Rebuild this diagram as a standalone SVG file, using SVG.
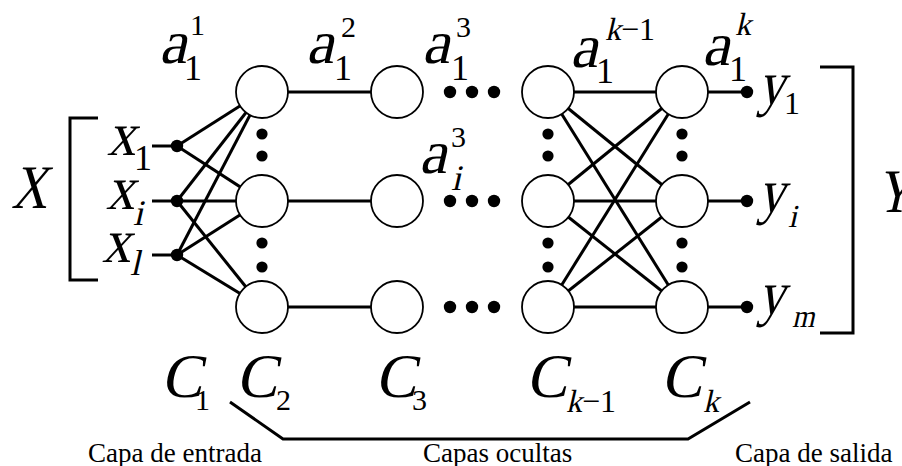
<svg xmlns="http://www.w3.org/2000/svg" width="902" height="466" viewBox="0 0 902 466">
<style>
.ln{stroke:#000;stroke-width:3;fill:none;stroke-linecap:butt}
.nd{fill:#fff;stroke:#000;stroke-width:1.8}
.dt{fill:#000}
text{font-family:"Liberation Serif","Times New Roman",serif;font-style:normal;fill:#000}
.mi{font-size:62px}
.sb{font-size:36px}
.ss{font-size:32px}
.sp{font-size:30px}
.cap{font-size:27px}
</style>
<rect width="902" height="466" fill="#fff"/>
<g id="connectors" class="ln">
  <line x1="152" y1="146" x2="177" y2="146"/>
  <line x1="152" y1="201" x2="177" y2="201"/>
  <line x1="152" y1="255" x2="177" y2="255"/>
  <line x1="177" y1="146" x2="262" y2="92"/>
  <line x1="177" y1="146" x2="262" y2="201"/>
  <line x1="177" y1="201" x2="262" y2="92"/>
  <line x1="177" y1="201" x2="262" y2="201"/>
  <line x1="177" y1="201" x2="262" y2="307"/>
  <line x1="177" y1="255" x2="262" y2="92"/>
  <line x1="177" y1="255" x2="262" y2="201"/>
  <line x1="177" y1="255" x2="262" y2="307"/>
  <line x1="262" y1="92" x2="397" y2="92"/>
  <line x1="262" y1="201" x2="397" y2="201"/>
  <line x1="262" y1="307" x2="397" y2="307"/>
  <line x1="548" y1="92" x2="682" y2="92"/>
  <line x1="548" y1="92" x2="682" y2="201"/>
  <line x1="548" y1="92" x2="682" y2="307"/>
  <line x1="548" y1="201" x2="682" y2="92"/>
  <line x1="548" y1="201" x2="682" y2="201"/>
  <line x1="548" y1="201" x2="682" y2="307"/>
  <line x1="548" y1="307" x2="682" y2="92"/>
  <line x1="548" y1="307" x2="682" y2="201"/>
  <line x1="548" y1="307" x2="682" y2="307"/>
  <line x1="682" y1="92" x2="747" y2="92"/>
  <line x1="682" y1="201" x2="747" y2="201"/>
  <line x1="682" y1="307" x2="747" y2="307"/>
</g>
<g id="brackets" class="ln">
  <polyline points="98,118 70,118 70,280 98,280"/>
  <polyline points="820,67 853,67 853,333 820,333"/>
  <polyline points="230,402 283,439 688,439 750,402"/>
</g>
<g id="inputs" class="dt">
  <circle id="in1" cx="177" cy="146" r="6.2"/>
  <circle id="in2" cx="177" cy="201" r="6.2"/>
  <circle id="in3" cx="177" cy="255" r="6.2"/>
</g>
<g id="outputs" class="dt">
  <circle id="out1" cx="747" cy="92" r="6.2"/>
  <circle id="out2" cx="747" cy="201" r="6.2"/>
  <circle id="out3" cx="747" cy="307" r="6.2"/>
</g>
<g id="c2_1"><circle class="nd" cx="262" cy="92" r="26"/></g>
<g id="c2_2"><circle class="nd" cx="262" cy="201" r="26"/></g>
<g id="c2_3"><circle class="nd" cx="262" cy="307" r="26"/></g>
<g id="c3_1"><circle class="nd" cx="397" cy="92" r="26"/></g>
<g id="c3_2"><circle class="nd" cx="397" cy="201" r="26"/></g>
<g id="c3_3"><circle class="nd" cx="397" cy="307" r="26"/></g>
<g id="ck1_1"><circle class="nd" cx="548" cy="92" r="26"/></g>
<g id="ck1_2"><circle class="nd" cx="548" cy="201" r="26"/></g>
<g id="ck1_3"><circle class="nd" cx="548" cy="307" r="26"/></g>
<g id="ck_1"><circle class="nd" cx="682" cy="92" r="26"/></g>
<g id="ck_2"><circle class="nd" cx="682" cy="201" r="26"/></g>
<g id="ck_3"><circle class="nd" cx="682" cy="307" r="26"/></g>
<g id="ellipsis" class="dt">
  <circle cx="450" cy="92" r="6.2"/><circle cx="472" cy="92" r="6.2"/><circle cx="494" cy="92" r="6.2"/>
  <circle cx="450" cy="201" r="6.2"/><circle cx="472" cy="201" r="6.2"/><circle cx="494" cy="201" r="6.2"/>
  <circle cx="450" cy="307" r="6.2"/><circle cx="472" cy="307" r="6.2"/><circle cx="494" cy="307" r="6.2"/>
  <circle cx="262" cy="134" r="5.6"/><circle cx="262" cy="156" r="5.6"/><circle cx="262" cy="243" r="5.6"/><circle cx="262" cy="267" r="5.6"/>
  <circle cx="548" cy="134" r="5.6"/><circle cx="548" cy="156" r="5.6"/><circle cx="548" cy="243" r="5.6"/><circle cx="548" cy="267" r="5.6"/>
  <circle cx="682" cy="134" r="5.6"/><circle cx="682" cy="156" r="5.6"/><circle cx="682" cy="243" r="5.6"/><circle cx="682" cy="267" r="5.6"/>
</g>
<g id="labels">
  <g id="lbl-X"><text class="mi" transform="translate(11,208) skewX(-13) scale(0.8,1)">X</text></g>
  <g id="lbl-Y"><text class="mi" transform="translate(876,212) skewX(-13) scale(0.8,1)">Y</text></g>
  <g id="lbl-x1"><text class="mi" transform="translate(107,155) skewX(-13) scale(0.92,1)">x</text><text class="sb" x="134" y="170">1</text></g>
  <g id="lbl-xi"><text class="mi" transform="translate(106,209) skewX(-13) scale(0.92,1)">x</text><text class="sb" transform="translate(133,225) skewX(-13)">i</text></g>
  <g id="lbl-xl"><text class="mi" transform="translate(102,262) skewX(-13) scale(0.92,1)">x</text><text class="sb" transform="translate(130,275) skewX(-13)">l</text></g>
  <g id="lbl-a11"><text class="mi" transform="translate(159,63) skewX(-13)">a</text><text class="sb" x="184" y="80">1</text><text class="sp" x="190" y="35">1</text></g>
  <g id="lbl-a12"><text class="mi" transform="translate(306,63) skewX(-13)">a</text><text class="sb" x="334" y="80">1</text><text class="sp" x="341" y="37">2</text></g>
  <g id="lbl-a13"><text class="mi" transform="translate(422,63) skewX(-13)">a</text><text class="sb" x="451" y="80">1</text><text class="sp" x="456" y="37">3</text></g>
  <g id="lbl-ai3"><text class="mi" transform="translate(419,173) skewX(-13)">a</text><text class="sb" transform="translate(451,190) skewX(-13)">i</text><text class="sp" x="451" y="147">3</text></g>
  <g id="lbl-a1k1"><text class="mi" transform="translate(570,67) skewX(-13)">a</text><text class="sb" x="596" y="83">1</text><text class="ss" transform="translate(605,40) skewX(-13)">k</text><text class="ss" x="621" y="40">−1</text></g>
  <g id="lbl-a1k"><text class="mi" transform="translate(702,65) skewX(-13)">a</text><text class="sb" x="729" y="81">1</text><text class="ss" transform="translate(735,35) skewX(-13)">k</text></g>
  <g id="lbl-y1"><text class="mi" transform="translate(758,104) skewX(-13) scale(0.85,1)">y</text><text class="ss" x="784" y="114">1</text></g>
  <g id="lbl-yi"><text class="mi" transform="translate(758,212) skewX(-13) scale(0.85,1)">y</text><text class="ss" transform="translate(788,227) skewX(-13)">i</text></g>
  <g id="lbl-ym"><text class="mi" transform="translate(758,314) skewX(-13) scale(0.85,1)">y</text><text class="ss" transform="translate(792,327) skewX(-13) scale(0.9,1)">m</text></g>
  <g id="lbl-C1"><text class="mi" transform="translate(161,397) skewX(-12)">C</text><text class="sp" x="195" y="410">1</text></g>
  <g id="lbl-C2"><text class="mi" transform="translate(236,397) skewX(-12)">C</text><text class="sp" x="276" y="410">2</text></g>
  <g id="lbl-C3"><text class="mi" transform="translate(375,397) skewX(-12)">C</text><text class="sp" x="412" y="410">3</text></g>
  <g id="lbl-Ck1"><text class="mi" transform="translate(526,397) skewX(-12)">C</text><text class="ss" transform="translate(566,412) skewX(-13)">k</text><text class="ss" x="582" y="412">−1</text></g>
  <g id="lbl-Ck"><text class="mi" transform="translate(661,397) skewX(-12)">C</text><text class="ss" transform="translate(703,412) skewX(-13)">k</text></g>
  <text class="cap" x="88" y="462">Capa de entrada</text>
  <text class="cap" x="423" y="462">Capas ocultas</text>
  <text class="cap" x="735" y="462">Capa de salida</text>
</g>
</svg>
